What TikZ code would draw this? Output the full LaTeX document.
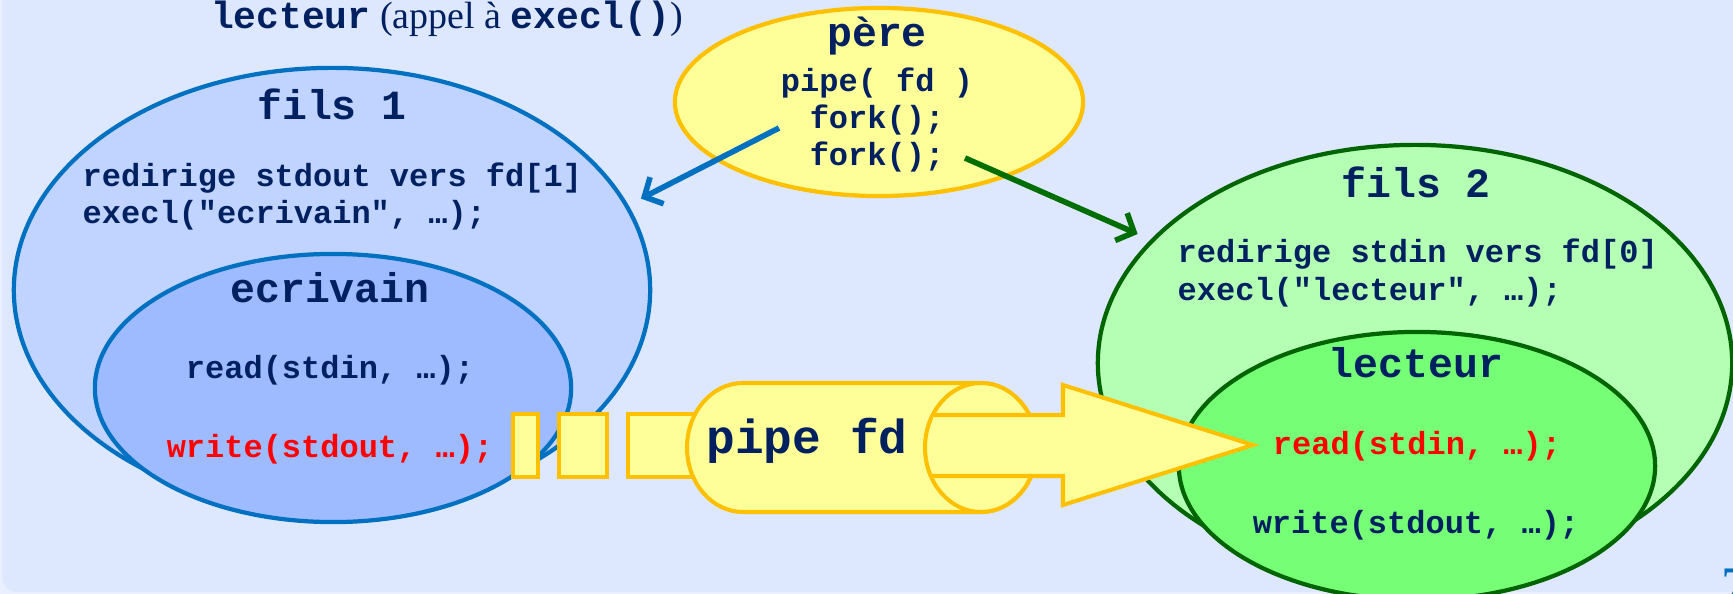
\documentclass[tikz,border=0pt]{standalone}
\usepackage{fontspec}
\setmainfont{Liberation Serif}
\setmonofont{Liberation Mono}
\usetikzlibrary{shapes.geometric,arrows.meta,calc}

\definecolor{slidebg}{RGB}{221,232,255}
\definecolor{edgebg}{RGB}{234,240,255}
\definecolor{fils1fill}{RGB}{192,212,255}
\definecolor{ecrfill}{RGB}{158,187,255}
\definecolor{fblue}{RGB}{0,112,192}
\definecolor{fils2fill}{RGB}{180,255,180}
\definecolor{lecfill}{RGB}{118,255,118}
\definecolor{fgreen}{RGB}{0,100,0}
\definecolor{arrowgreen}{RGB}{0,110,0}
\definecolor{pipeyellow}{RGB}{255,255,153}
\definecolor{pipeorange}{RGB}{255,192,0}
\definecolor{textnavy}{RGB}{0,32,96}

\newcommand\codefont{\ttfamily\bfseries\fontsize{9.1}{10.5}\selectfont}
\newcommand\procfont{\ttfamily\bfseries\fontsize{11.8}{14}\selectfont}
\newcommand\pipefont{\ttfamily\bfseries\fontsize{13.6}{16}\selectfont}

\begin{document}
\begin{tikzpicture}[x=0.01cm, y=-0.01cm,
    proc/.style={ellipse, line width=1.2pt, inner sep=0pt},
    hd/.style={font=\procfont, text=textnavy, anchor=base, inner sep=0pt},
    code/.style={font=\codefont, text=textnavy, anchor=base, inner sep=0pt},
    pipepart/.style={fill=pipeyellow, draw=pipeorange, line width=1.15pt},
    forkarrow/.style={-{Straight Barb[length=4pt,width=8.5pt]}, line width=1.6pt, shorten >=4pt}]

% Slide background
\useasboundingbox (0,0) rectangle (1733,594);
\fill[edgebg] (0,0) rectangle (1733,594);
\fill[slidebg, rounded corners=4pt] (2.5,-30) rectangle (1760,592);

% Caption
\node[font=\fontsize{10.8}{12}\selectfont, text=textnavy, anchor=base, inner sep=0pt] (caption) at (447,28)
  {\texttt{\bfseries lecteur} (appel à \texttt{\bfseries execl()})};

% Processes
\node[proc, draw=fblue, fill=fils1fill, minimum width=6.36cm, minimum height=4.44cm] (fils1) at (332,290) {};
\node[proc, draw=fblue, fill=ecrfill, minimum width=4.76cm, minimum height=2.68cm] (ecrivain) at (333,388) {};
\node[proc, draw=pipeorange, fill=pipeyellow, minimum width=4.08cm, minimum height=1.88cm] (pere) at (879,102) {};
\node[proc, draw=fgreen, fill=fils2fill, minimum width=6.34cm, minimum height=4.36cm] (fils2) at (1415,363) {};
\node[proc, draw=fgreen, fill=lecfill, minimum width=4.76cm, minimum height=2.68cm] (lecteur) at (1417,466) {};

% fork() arrows
\draw[forkarrow, fblue] ($(pere.center)+(-100,26)$) -- (fils1.16);
\draw[forkarrow, arrowgreen] ($(pere.center)+(86,56)$) -- (fils2.155);

% Pipe: data chunks, tube, outgoing arrow
\draw[pipepart] (513,414) rectangle (538,477);
\draw[pipepart] (559,414) rectangle (607,477);
\draw[pipepart] (628,414) rectangle (700,477);
\draw[pipepart] (743,383) arc[start angle=270, end angle=90, x radius=56, y radius=64.5]
  -- (981,512) arc[start angle=90, end angle=-90, x radius=56, y radius=64.5] -- cycle;
\draw[pipepart] (981,447.5) ellipse [x radius=56, y radius=64.5];
\fill[pipeyellow] (933,415) -- (1063,415) -- (1063,385) -- (1253,445) -- (1063,505) -- (1063,476) -- (932,476) -- cycle;
\draw[pipeorange, line width=1.15pt] (933,415) -- (1063,415) -- (1063,385) -- (1253,445) -- (1063,505) -- (1063,476) -- (932,476);
\node[font=\pipefont, text=textnavy, anchor=base, inner sep=0pt] (pipename) at (807,453) {pipe fd};

% pere
\node[hd] (perename) at (877,47) {père};
\node[code] (perepipe) at (877,91) {pipe( fd )};
\node[code] (perefork1) at (877,128) {fork();};
\node[code] (perefork2) at (877,165) {fork();};

% fils 1 / ecrivain
\node[hd] (fils1name) at (332,120) {fils 1};
\node[code, anchor=base west] (fils1redir) at (82,186) {redirige stdout vers fd[1]};
\node[code, anchor=base west] (fils1exec) at (82,223) {execl("ecrivain", …);};
\node[hd] (ecrname) at (330,302) {ecrivain};
\node[code] (ecrread) at (330,378) {read(stdin, …);};
\node[code, text=red] (ecrwrite) at (330,457) {write(stdout, …);};

% fils 2 / lecteur
\node[hd] (fils2name) at (1416,197) {fils 2};
\node[code, anchor=base west] (fils2redir) at (1177,262) {redirige stdin vers fd[0]};
\node[code, anchor=base west] (fils2exec) at (1177,300) {execl("lecteur", …);};
\node[hd] (lecname) at (1416,377) {lecteur};
\node[code, text=red] (lecread) at (1417,454) {read(stdin, …);};
\node[code] (lecwrite) at (1416,533) {write(stdout, …);};

% page number
\node[font=\fontsize{15}{17}\selectfont, text=fblue, anchor=base west, inner sep=0pt] (pageno) at (1721,603) {7};
\end{tikzpicture}
\end{document}
